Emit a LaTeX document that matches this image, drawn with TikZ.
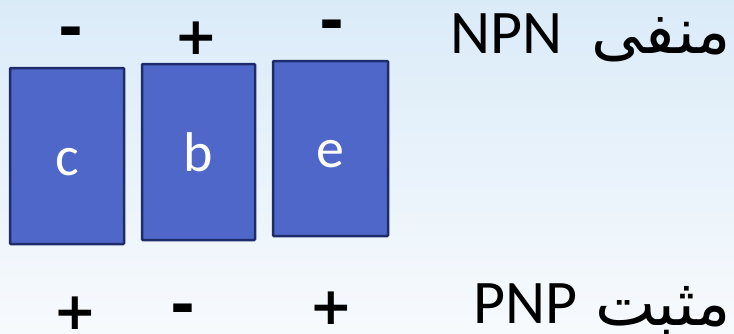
\documentclass[tikz,border=0pt]{standalone}
\usepackage{fontspec}
\setmainfont{Carlito}
\newfontfamily\arabicfont[Script=Arabic]{DejaVu Sans}
\newfontfamily\signfont{DejaVu Sans}
\TeXXeTstate=1
\definecolor{boxfill}{RGB}{79,103,200}
\definecolor{boxline}{RGB}{31,44,107}
\definecolor{bgleft}{RGB}{218,235,248}
\definecolor{bgright}{RGB}{247,250,253}
\tikzset{
  elem/.style={draw=boxline, fill=boxfill, line width=2.5pt, rounded corners=1pt,
    inner sep=0pt, text=white, font=\fontsize{56}{60}\selectfont,
    text height=38pt, text depth=0pt},
  plussign/.style={inner sep=1pt, font=\signfont\bfseries\fontsize{52}{56}\selectfont},
  minussign/.style={inner sep=1pt, font=\signfont\bfseries\fontsize{60}{64}\selectfont},
  latinlabel/.style={inner sep=1pt, font=\fontsize{62}{66}\selectfont},
  arablabel/.style={inner sep=1pt, font=\arabicfont\fontsize{64}{68}\selectfont}
}
\begin{document}
\begin{tikzpicture}[x=1pt,y=-1pt]
\useasboundingbox (0,0) rectangle (734,333);
\shade[left color=bgleft, right color=bgright, shading angle=0] (0,0) rectangle (734,333);
% boxes
\node[elem, minimum width=114pt, minimum height=176pt] (c) at (67,156) {c};
\node[elem, minimum width=113pt, minimum height=176pt] (b) at (198.5,152) {b};
\node[elem, minimum width=115pt, minimum height=175pt] (e) at (330.5,148.5) {e};
% signs above
\node[minussign] (cm) at (71,38) {-};
\node[plussign] (bp) at (196,38) {+};
\node[minussign] (em) at (332,31) {-};
% signs below
\node[plussign] (cp) at (75,313) {+};
\node[minussign] (bm) at (183,315) {-};
\node[plussign] (ep) at (331,308) {+};
% right texts
\node[latinlabel, anchor=base west] (npn) at (449,53) {NPN};
\node[arablabel, anchor=base east] (manfi) at (732,53) {\beginR منفی\endR};
\node[latinlabel, anchor=base west] (pnp) at (472,323) {PNP};
\node[arablabel, anchor=base east] (mosbat) at (732,325) {\beginR مثبت\endR};
\end{tikzpicture}
\end{document}
